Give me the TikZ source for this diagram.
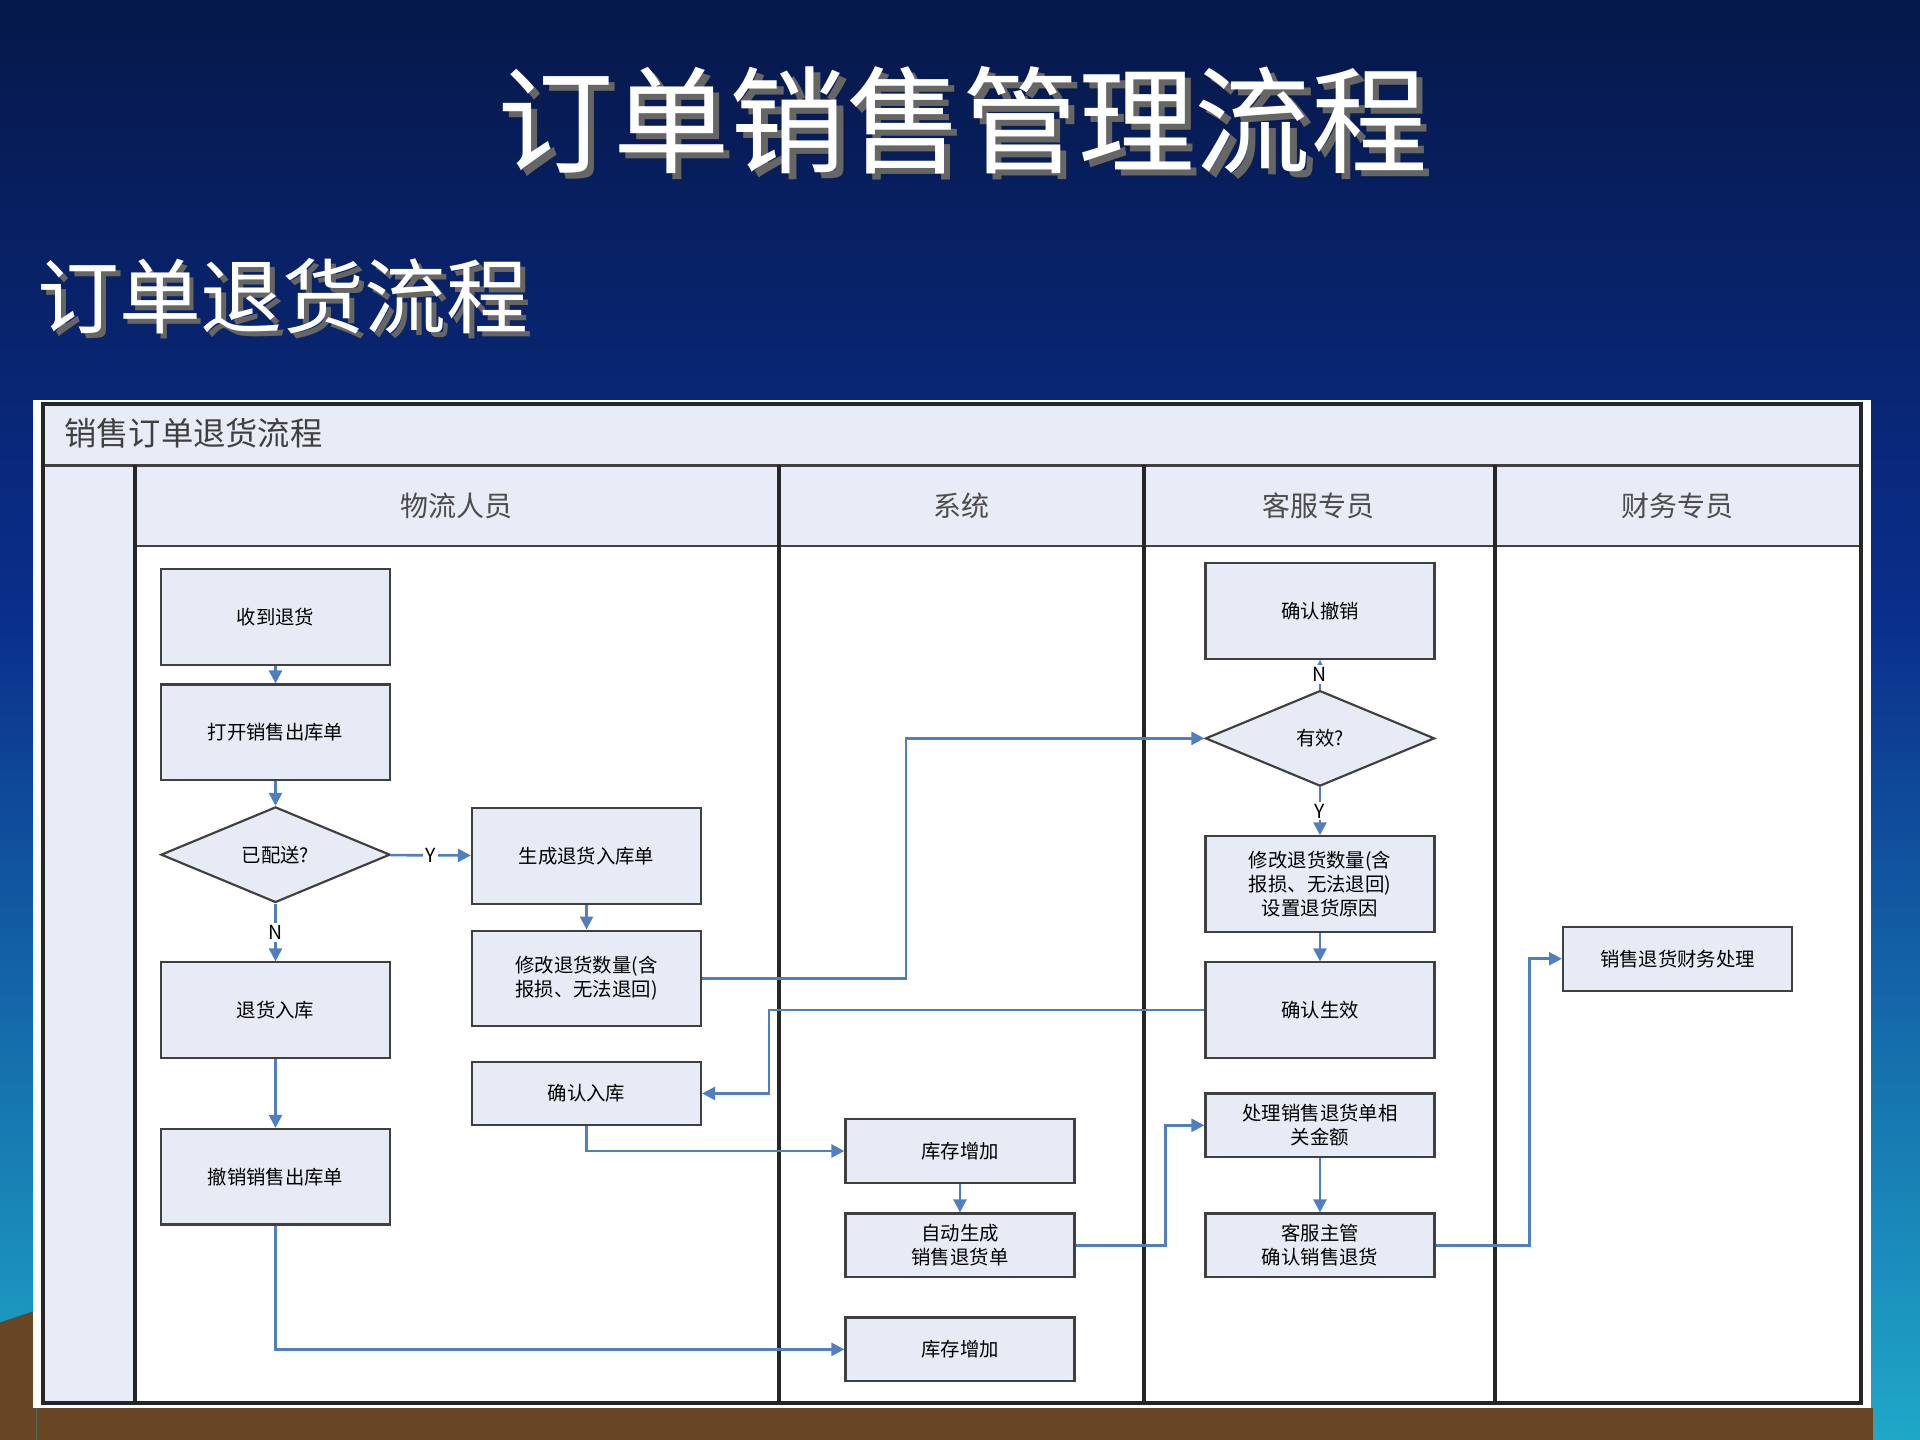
\documentclass[tikz,border=0pt]{standalone}
\usepackage{fontspec}
\setmainfont{Noto Sans CJK SC}
\usetikzlibrary{shapes.geometric,arrows.meta}
\definecolor{navy}{HTML}{06184A}
\definecolor{mblue}{HTML}{0A2E8C}
\definecolor{teal2}{HTML}{1FA8C8}
\definecolor{nfill}{HTML}{E6EBF5}
\definecolor{lane}{HTML}{E8ECF6}
\definecolor{ln}{HTML}{4F7FBF}
\begin{document}
\begin{tikzpicture}[x=0.01cm,y=-0.01cm,
 box/.style={draw=black!75,fill=nfill,line width=0.5pt,minimum width=1.87cm,minimum height=0.78cm,align=center,font=\fontsize{4.5}{5.5}\selectfont,inner sep=1pt},
 sbox/.style={box,minimum height=0.52cm},
 dia/.style={diamond,aspect=2.4,draw=black!75,fill=nfill,line width=0.5pt,minimum width=1.87cm,minimum height=0.78cm,inner sep=0pt,font=\fontsize{4.5}{5.5}\selectfont},
 ar/.style={draw=ln,line width=0.6pt,-{Triangle[length=3pt,width=3pt]}},
 lab/.style={font=\fontsize{4.5}{5}\selectfont,fill=white,inner sep=0.5pt},
 hd/.style={font=\fontsize{6.5}{7}\selectfont,text=black!70}]
\useasboundingbox (0,0) rectangle (1568,1176);
\shade[top color=navy,bottom color=mblue] (0,0) rectangle (1568,500);
\shade[top color=mblue,bottom color=teal2] (0,500) rectangle (1568,1176);
\fill[brown!55!black] (0,1176) -- (0,1080) -- (30,1070) -- (30,1176) -- cycle;
\fill[brown!55!black] (30,1150) rectangle (1530,1176);
\node[text=black!60,font=\fontsize{27}{30}\selectfont] (ts) at (791,103) {订单销售管理流程};
\node[text=white,font=\fontsize{27}{30}\selectfont] (t) at (786,98) {订单销售管理流程};
\node[text=black!60,font=\fontsize{19}{22}\selectfont,anchor=west] (sts) at (22,246) {订单退货流程};
\node[text=white,font=\fontsize{19}{22}\selectfont,anchor=west] (st) at (18,242) {订单退货流程};
% panel
\fill[white] (27,327) rectangle (1528,1150);
\draw[black!75,fill=lane,line width=0.6pt] (35,330) rectangle (1520,380);
\draw[black!75,fill=lane,line width=0.6pt] (35,380) rectangle (110,1146);
\draw[black!75,fill=lane,line width=0.6pt] (110,380) rectangle (1520,446);
\draw[black!85,line width=0.9pt] (35,330) rectangle (1520,1146);
\foreach \x in {110,636,934,1221} \draw[black!85,line width=0.9pt] (\x,380) -- (\x,1146);
\node[anchor=west,font=\fontsize{7.5}{8}\selectfont,text=black!75] (pt) at (40,354) {销售订单退货流程};
\node[hd] (h1) at (373,413) {物流人员};
\node[hd] (h2) at (785,413) {系统};
\node[hd] (h3) at (1077,413) {客服专员};
\node[hd] (h4) at (1370,413) {财务专员};
% nodes
\node[box] (a1) at (225,504) {收到退货};
\node[box] (a2) at (225,598) {打开销售出库单};
\node[dia] (d1) at (225,698) {已配送?};
\node[box] (b1) at (479,699) {生成退货入库单};
\node[box] (b2) at (479,799) {修改退货数量(含\\报损、无法退回)};
\node[box] (a3) at (225,825) {退货入库};
\node[sbox] (b3) at (479,893) {确认入库};
\node[box] (a4) at (225,961) {撤销销售出库单};
\node[sbox] (s1) at (784,940) {库存增加};
\node[sbox] (s2) at (784,1017) {自动生成\\销售退货单};
\node[sbox] (s3) at (784,1102) {库存增加};
\node[box] (c1) at (1078,499) {确认撤销};
\node[dia] (d2) at (1078,603) {有效?};
\node[box] (c2) at (1078,722) {修改退货数量(含\\报损、无法退回)\\设置退货原因};
\node[box] (c3) at (1078,825) {确认生效};
\node[sbox] (c4) at (1078,919) {处理销售退货单相\\关金额};
\node[sbox] (c5) at (1078,1017) {客服主管\\确认销售退货};
\node[sbox] (f1) at (1370,783) {销售退货财务处理};
% edges
\draw[ar] (a1) -- (a2);
\draw[ar] (a2) -- (d1);
\draw[ar] (d1) -- node[lab]{N} (a3);
\draw[ar] (d1) -- node[lab]{Y} (b1);
\draw[ar] (b1) -- (b2);
\draw[ar] (a3) -- (a4);
\draw[ar] (b2.east) -- (740,799) -- (740,603) -- (d2.west);
\draw[ar] (c3.west) -- (628,825) -- (628,893) -- (b3.east);
\draw[ar] (b3.south) -- (479,940) -- (s1.west);
\draw[ar] (s1) -- (s2);
\draw[ar] (s2.east) -- (952,1017) -- (952,919) -- (c4.west);
\draw[ar] (c4) -- (c5);
\draw[ar] (c5.east) -- (1249,1017) -- (1249,783) -- (f1.west);
\draw[ar] (a4.south) -- (225,1102) -- (s3.west);
\draw[ar] (d2) -- node[lab]{N} (c1);
\draw[ar] (d2) -- node[lab]{Y} (c2);
\draw[ar] (c2) -- (c3);
\end{tikzpicture}
\end{document}
